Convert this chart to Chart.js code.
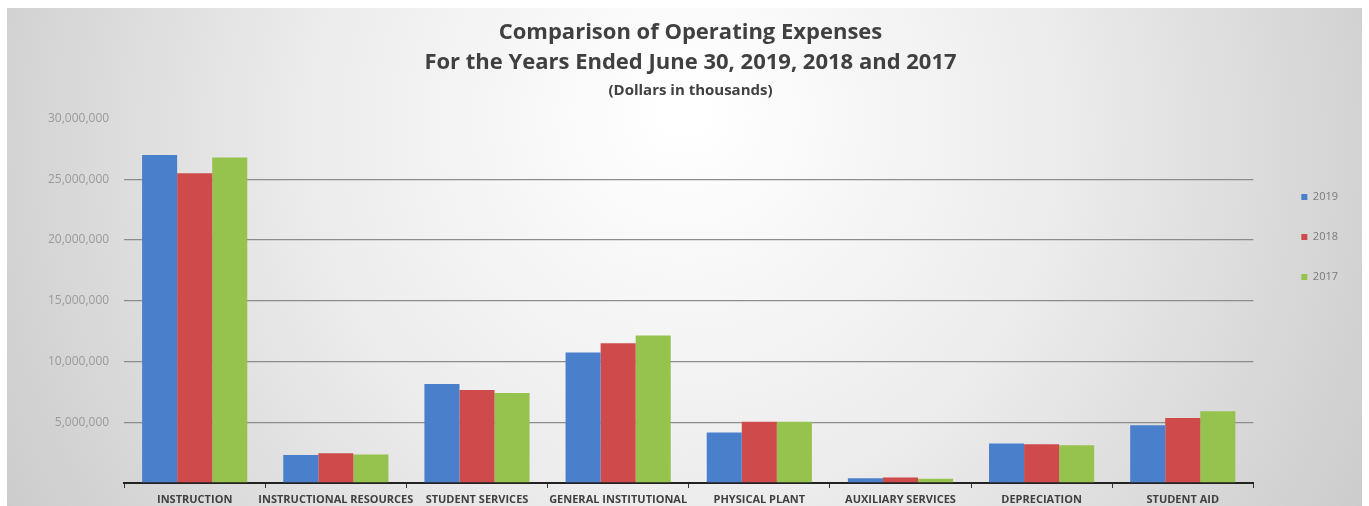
<!DOCTYPE html>
<html>
<head>
<meta charset="utf-8">
<script src="https://cdn.jsdelivr.net/npm/chart.js@4"></script>
<style>
  html, body { margin: 0; padding: 0; background: #fff; }
  #wrap { position: absolute; left: 7px; top: 8px; width: 1355px; height: 498px; }
</style>
</head>
<body>
<div id="wrap"><canvas id="opex"></canvas></div>
<script>
// values in thousands of dollars
var categories = ['INSTRUCTION', 'INSTRUCTIONAL RESOURCES', 'STUDENT SERVICES', 'GENERAL INSTITUTIONAL',
  'PHYSICAL PLANT', 'AUXILIARY SERVICES', 'DEPRECIATION', 'STUDENT AID'];
var years = ['2019', '2018', '2017'];
var exp2019 = [27000000, 2300000, 8150000, 10750000, 4150000, 400000, 3250000, 4750000];
var exp2018 = [25500000, 2450000, 7650000, 11500000, 5050000, 450000, 3200000, 5350000];
var exp2017 = [26800000, 2350000, 7400000, 12150000, 5050000, 350000, 3100000, 5900000];
var yTicks = [0, 5000000, 10000000, 15000000, 20000000, 25000000, 30000000];

// gray gradient panel behind the chart
var panelBg = {
  id: 'panelBg',
  beforeDraw: function(chart) {
    var ctx = chart.ctx, w = chart.width, h = chart.height;
    ctx.save();
    var g = ctx.createRadialGradient(w * 0.5, h * 0.2, 20, w * 0.5, h * 0.3, w * 0.6);
    g.addColorStop(0, '#ffffff');
    g.addColorStop(0.45, '#ececec');
    g.addColorStop(1, '#c8c8c8');
    ctx.fillStyle = g;
    ctx.fillRect(0, 0, w, h);
    ctx.restore();
  }
};

Chart.defaults.font.family = "'Open Sans', sans-serif";

var chart = new Chart('opex', {
  type: 'bar',
  data: {
    labels: categories,
    datasets: [
      { label: years[0], data: exp2019, backgroundColor: '#4a7fcc' },
      { label: years[1], data: exp2018, backgroundColor: '#cf4b4b' },
      { label: years[2], data: exp2017, backgroundColor: '#96c24e' }
    ]
  },
  options: {
    responsive: true,
    maintainAspectRatio: false,
    animation: false,
    categoryPercentage: 0.745,
    barPercentage: 1,
    layout: { padding: { left: 26, right: 14, top: 0, bottom: -5 } },
    scales: {
      x: {
        grid: { offset: true, display: true, drawOnChartArea: false, drawTicks: true, tickLength: 5, color: '#333' },
        border: { display: true, color: '#222', width: 2 },
        ticks: { color: '#404040', font: { size: 11, weight: 'bold', lineHeight: 1 }, maxRotation: 0, autoSkip: false, padding: 6 }
      },
      y: {
        min: 0,
        max: 30000000,
        afterBuildTicks: function(axis) { axis.ticks = yTicks.map(function(v) { return { value: v }; }); },
        grid: {
          drawTicks: false,
          color: function(c) { return (c.tick.value === 0 || c.tick.value === 30000000) ? 'rgba(0,0,0,0)' : '#8c8c8c'; },
          lineWidth: 1.3
        },
        border: { display: false },
        ticks: {
          color: '#9a9a9a',
          padding: 15,
          font: { size: 12 },
          callback: function(v) { return v === 0 ? '' : v.toLocaleString('en-US'); }
        }
      },
      // empty spacer between the plot and the legend
      gap: {
        position: 'right',
        display: true,
        grid: { display: false },
        border: { display: false },
        ticks: { display: false },
        afterFit: function(axis) { axis.width = 19; }
      }
    },
    plugins: {
      title: {
        display: true,
        text: ['Comparison of Operating Expenses', 'For the Years Ended June 30, 2019, 2018 and 2017'],
        color: '#404040',
        font: { size: 22, weight: 'bold', lineHeight: 1.4 },
        padding: { top: 9, bottom: 3 }
      },
      subtitle: {
        display: true,
        text: '(Dollars in thousands)',
        color: '#404040',
        font: { size: 15, weight: 'bold' },
        padding: { top: 0, bottom: 19 }
      },
      legend: {
        position: 'right',
        align: 'start',
        title: { display: true, text: ' ', padding: { top: 140, bottom: 0 } },
        labels: {
          boxWidth: 6,
          boxHeight: 6,
          padding: 29,
          color: '#7a7a7a',
          font: { size: 11 }
        }
      },
      tooltip: { enabled: false }
    }
  },
  plugins: [panelBg]
});
</script>
</body>
</html>
